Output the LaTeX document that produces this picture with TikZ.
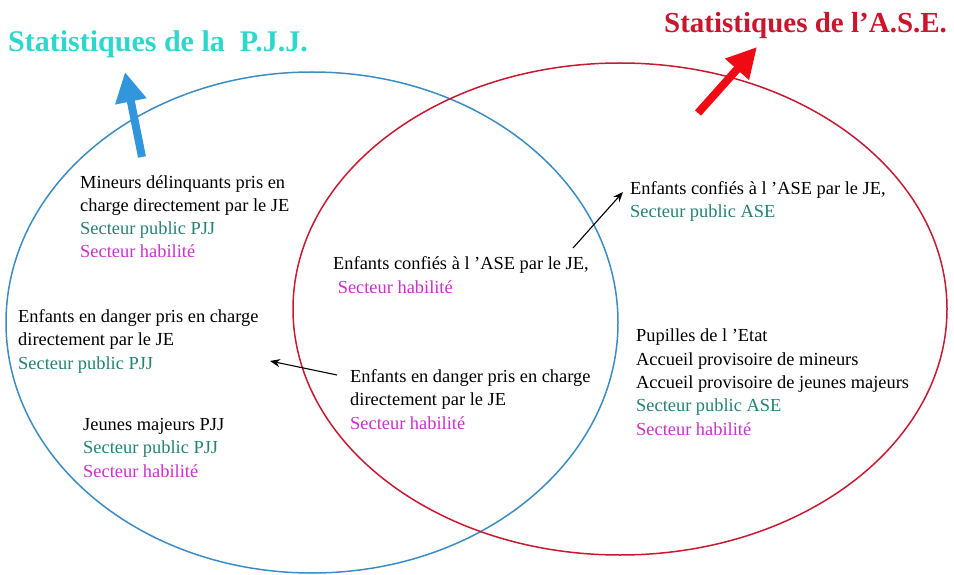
\documentclass[tikz,border=0pt]{standalone}
\usepackage{fontspec}
\setmainfont{Liberation Serif}
\usepackage{xcolor}
\usepackage{tikz}
\usetikzlibrary{arrows.meta,shapes.geometric}

\definecolor{pjjline}{RGB}{60,140,195}
\definecolor{aseline}{RGB}{200,25,50}
\definecolor{pjjtitle}{RGB}{45,215,205}
\definecolor{asetitle}{RGB}{205,20,45}
\definecolor{pjjarrow}{RGB}{50,150,220}
\definecolor{asearrow}{RGB}{240,10,20}
\definecolor{pubteal}{RGB}{35,130,115}
\definecolor{habmag}{RGB}{200,50,200}

\newcommand{\secpub}[1]{\textcolor{pubteal}{#1}}
\newcommand{\sechab}[1]{\textcolor{habmag}{#1}}

\begin{document}
\begin{tikzpicture}[
  x=1pt, y=-1pt,
  set/.style={draw, ellipse, line width=1.5pt, inner sep=0pt},
  title/.style={anchor=base west, inner sep=0pt, font=\bfseries\fontsize{29}{32}\selectfont},
  txt/.style={anchor=base west, inner sep=0pt, align=left,
              font=\fontsize{18.4}{23.3}\selectfont},
  fat/.style={line width=8pt, -{Triangle[length=30pt, width=30pt]}},
  arrow/.style={-{Stealth[length=10pt, width=8pt]}, line width=1.1pt}
]
  \useasboundingbox (0,0) rectangle (954,575);

  % --- the two sets --------------------------------------------------
  \node[set, draw=pjjline, minimum width=612pt, minimum height=501pt] (pjj) at (312,322.5) {};
  \node[set, draw=aseline, minimum width=654pt, minimum height=492pt] (ase) at (620,309) {};

  % --- titles ----------------------------------------------------------
  \node[title, text=pjjtitle, font=\bfseries\fontsize{30}{32}\selectfont] (pjjname) at (8,52) {Statistiques de la\ \ P.J.J.};
  \node[title, text=asetitle] (asename) at (664,33) {Statistiques de l’A.S.E.};

  \coordinate (pjjtail) at (142,157);
  \coordinate (pjjtip)  at (125,72);
  \coordinate (asetail) at (698,113);
  \coordinate (asetip)  at (757,47);
  \draw[fat, pjjarrow] (pjjtail) -- (pjjtip);
  \draw[fat, asearrow] (asetail) -- (asetip);

  % --- PJJ only (placed by the baseline of the last line) --------------
  \node[txt] (delinq) at (80,258) {Mineurs délinquants pris en\\charge directement par le JE\\\secpub{Secteur public PJJ}\\\sechab{Secteur habilité}};
  \node[txt] (dangerpjj) at (18,369) {Enfants en danger pris en charge\\directement par le JE\\\secpub{Secteur public PJJ}};
  \node[txt] (majeurs) at (83,477) {Jeunes majeurs PJJ\\\secpub{Secteur public PJJ}\\\sechab{Secteur habilité}};

  % --- both --------------------------------------------------------------
  \node[txt] (confhab) at (333,293) {Enfants confiés à l ’ASE par le JE,\\\ \sechab{Secteur habilité}};
  \node[txt] (dangerhab) at (350,429) {Enfants en danger pris en charge\\directement par le JE\\\sechab{Secteur habilité}};

  % --- ASE only --------------------------------------------------------
  \node[txt] (confpub) at (630,218) {Enfants confiés à l ’ASE par le JE,\\\secpub{Secteur public ASE}};
  \node[txt] (pupilles) at (636,435) {Pupilles de l ’Etat\\Accueil provisoire de mineurs\\Accueil provisoire de jeunes majeurs\\\secpub{Secteur public ASE}\\\sechab{Secteur habilité}};

  % --- small arrows ----------------------------------------------------
  \coordinate (confout) at (573,248);
  \coordinate (confin)  at (623,192);
  \coordinate (dangout) at (337,375);
  \coordinate (dangin)  at (270,361);
  \draw[arrow] (confout) -- (confin);
  \draw[arrow] (dangout) -- (dangin);
\end{tikzpicture}
\end{document}
